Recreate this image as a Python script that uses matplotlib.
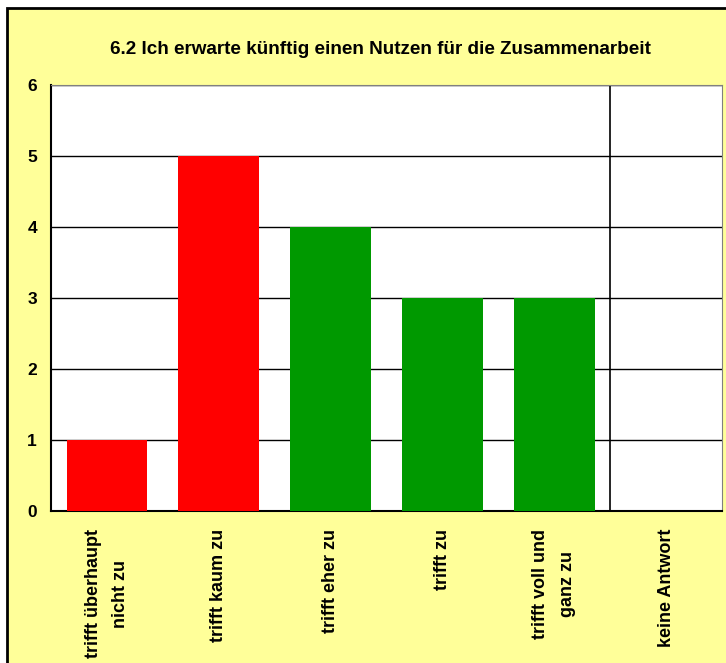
import matplotlib.pyplot as plt
from matplotlib.patches import Rectangle

plt.rcParams['font.family'] = ['Liberation Sans', 'DejaVu Sans']

categories = ['trifft überhaupt\nnicht zu', 'trifft kaum zu', 'trifft eher zu',
              'trifft zu', 'trifft voll und\nganz zu', 'keine Antwort']
values = [1, 5, 4, 3, 3, 0]
colors = ['#FF0000', '#FF0000', '#009900', '#009900', '#009900', '#009900']
title = '6.2 Ich erwarte künftig einen Nutzen für die Zusammenarbeit'

W, H = 726, 663
fig = plt.figure(figsize=(W / 100, H / 100), dpi=100)
fig.patch.set_facecolor('white')

# yellow chart frame, cut off at right and bottom like the original
fig.patches.append(Rectangle((7 / W, -0.05), 1.1, 1 - 8 / H + 0.05,
                             transform=fig.transFigure, facecolor='#FFFF99',
                             edgecolor='black', linewidth=2, zorder=-5))

ax = fig.add_axes([51 / W, 1 - 511 / H, (722 - 51) / W, (511 - 85) / H])
ax.set_zorder(2)
ax.set_facecolor('white')

x = range(len(categories))
ax.bar(x, values, width=0.72, color=colors, zorder=3)

ax.set_xlim(-0.5, len(categories) - 0.5)
ax.set_ylim(0, 6)
ax.set_yticks(range(7))
ax.yaxis.grid(True, color='black', linewidth=1, zorder=1)
ax.axvline(4.5, color='black', linewidth=1.2, zorder=2)

ax.set_xticks(list(x))
ax.set_xticklabels(categories, rotation=90, ha='center', va='top',
                   fontsize=13, fontweight='bold', linespacing=1.75)
for lbl in ax.get_yticklabels():
    lbl.set_fontweight('bold')
    lbl.set_fontsize(12.5)
ax.tick_params(axis='both', length=0)
ax.tick_params(axis='x', pad=13)
ax.tick_params(axis='y', pad=10)

ax.spines['left'].set_color('black')
ax.spines['bottom'].set_color('black')
ax.spines['left'].set_linewidth(1.5)
ax.spines['bottom'].set_linewidth(1.5)
ax.spines['top'].set_color('#808080')
ax.spines['right'].set_color('#808080')

fig.text(380 / W, 1 - 49 / H, title, ha='center', va='center',
         fontsize=13.6, fontweight='bold')

fig.savefig('out.png', dpi=100, facecolor=fig.get_facecolor())
